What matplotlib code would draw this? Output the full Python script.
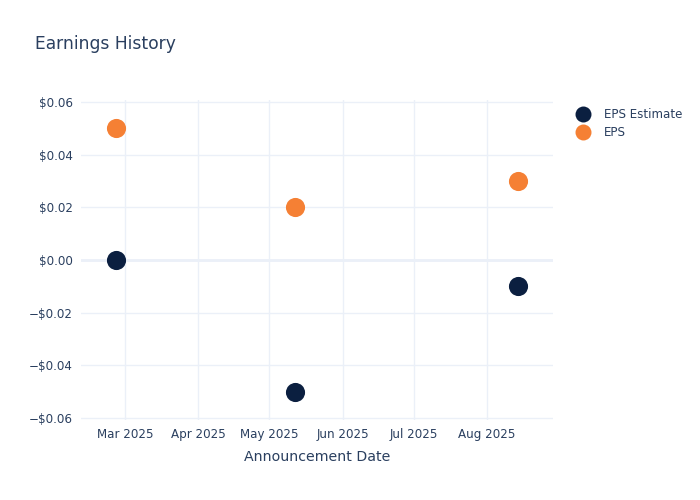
import matplotlib
matplotlib.use("Agg")
import matplotlib.pyplot as plt
import matplotlib.dates as mdates
from matplotlib.ticker import FuncFormatter, FixedLocator
from matplotlib.lines import Line2D
import datetime as dt

dates = ["2025-02-25", "2025-05-12", "2025-08-14"]
eps_estimate = [0.00, -0.05, -0.01]
eps_actual = [0.05, 0.02, 0.03]
y_ticks = [-0.06, -0.04, -0.02, 0.0, 0.02, 0.04, 0.06]
x_tick_dates = ["2025-03-01", "2025-04-01", "2025-05-01", "2025-06-01", "2025-07-01", "2025-08-01"]

TXT = "#2a3f5f"
GRID = "#ebf0f8"
C_EST = "#0b1f40"
C_EPS = "#f58034"

plt.rcParams['font.family'] = ['DejaVu Sans']

x = [dt.datetime.fromisoformat(d) for d in dates]
fig = plt.figure(figsize=(7, 5), dpi=100)
ax = fig.add_axes([81/700, 1 - 420/500, (553-81)/700, (420-100)/500])

ax.scatter(x, eps_estimate, s=190, color=C_EST, zorder=3, linewidths=0)
ax.scatter(x, eps_actual, s=190, color=C_EPS, zorder=3, linewidths=0)

ax.set_xlim(dt.datetime(2025, 2, 10, 8), dt.datetime(2025, 8, 29))
ax.set_ylim(-0.0608, 0.0608)

xt = [mdates.date2num(dt.datetime.fromisoformat(d)) for d in x_tick_dates]
ax.xaxis.set_major_locator(FixedLocator(xt))
ax.xaxis.set_major_formatter(mdates.DateFormatter("%b %Y"))
ax.yaxis.set_major_locator(FixedLocator(y_ticks))

def yfmt(v, pos):
    s = f"${abs(v):.2f}"
    return ("\u2212" + s) if v < -1e-9 else s
ax.yaxis.set_major_formatter(FuncFormatter(yfmt))

ax.grid(True, color=GRID, linewidth=1, zorder=0)
ax.axhline(0, color=GRID, linewidth=2, zorder=1)
for sp in ax.spines.values():
    sp.set_visible(False)
ax.tick_params(axis='both', length=0, labelsize=8.6, labelcolor=TXT)
ax.tick_params(axis='x', pad=6)
ax.tick_params(axis='y', pad=6)
ax.set_xlabel("Announcement Date", fontsize=10.2, color=TXT, labelpad=6)

fig.text(35/700, 1 - 44/500, "Earnings History", fontsize=12.3, color=TXT, va='center', ha='left')

handles = [Line2D([], [], marker='o', linestyle='', markersize=11.5, color=C_EST, markeredgewidth=0),
           Line2D([], [], marker='o', linestyle='', markersize=11.5, color=C_EPS, markeredgewidth=0)]
leg = fig.legend(handles, ["EPS Estimate", "EPS"], loc='upper left',
                 bbox_to_anchor=(569/700, 1 - 103/500), frameon=False,
                 fontsize=8.6, labelcolor=TXT, handletextpad=0.9,
                 labelspacing=0.45, borderaxespad=0, handlelength=1.6)

fig.savefig("out.png", dpi=100, facecolor="white")
